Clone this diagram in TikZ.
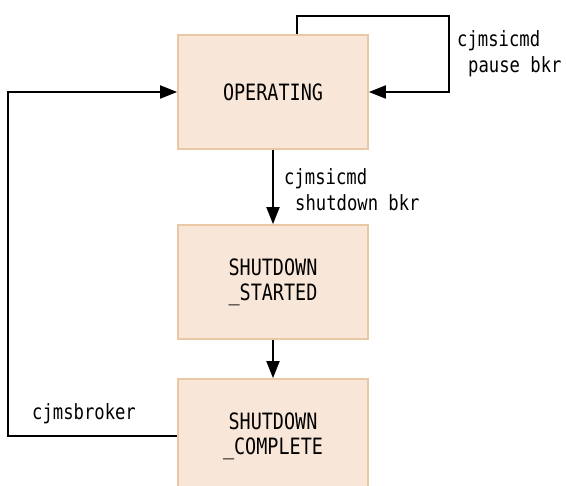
\documentclass[tikz,border=0pt]{standalone}
\usepackage{fontspec}
\newfontfamily\gothic[FakeStretch=0.82]{DejaVu Sans Mono}
\usetikzlibrary{arrows.meta}
\definecolor{boxfill}{RGB}{248,231,216}
\definecolor{boxline}{RGB}{235,200,165}
\begin{document}
\begin{tikzpicture}[x=1pt,y=-1pt,
  state/.style={draw=boxline,fill=boxfill,line width=1.6pt,minimum width=190pt,minimum height=114pt,inner sep=0pt,align=center,font=\gothic\fontsize{22.5}{25}\selectfont},
  lbl/.style={inner sep=0pt,anchor=base west,font=\gothic\fontsize{21}{25}\selectfont},
  conn/.style={line width=1.8pt,-{Triangle[length=17pt,width=13pt]}}]
\useasboundingbox (0,0) rectangle (566,486);
\clip (0,0) rectangle (566,486);
\node[state] (op) at (273,92) {OPERATING};
\node[state] (st) at (273,282) {SHUTDOWN\\\_STARTED};
\node[state] (co) at (273,436) {SHUTDOWN\\\_COMPLETE};
\coordinate (t1) at (297,16);
\coordinate (t2) at (449,16);
\coordinate (l1) at (8,435);
\draw[conn] (op.north -| t1) -- (t1) -- (t2) -- (t2 |- op.east) -- (op.east);
\draw[conn] (co.west) -- (co.west -| l1) |- (op.west);
\draw[conn] (op.south) -- (st.north);
\draw[conn] (st.south) -- (co.north);
\node[lbl] (la1) at (457,47) {cjmsicmd};
\node[lbl] (la2) at (468,73) {pause bkr};
\node[lbl] (lb1) at (284,185) {cjmsicmd};
\node[lbl] (lb2) at (295,211) {shutdown bkr};
\node[lbl] (lc) at (32,420) {cjmsbroker};
\end{tikzpicture}
\end{document}
